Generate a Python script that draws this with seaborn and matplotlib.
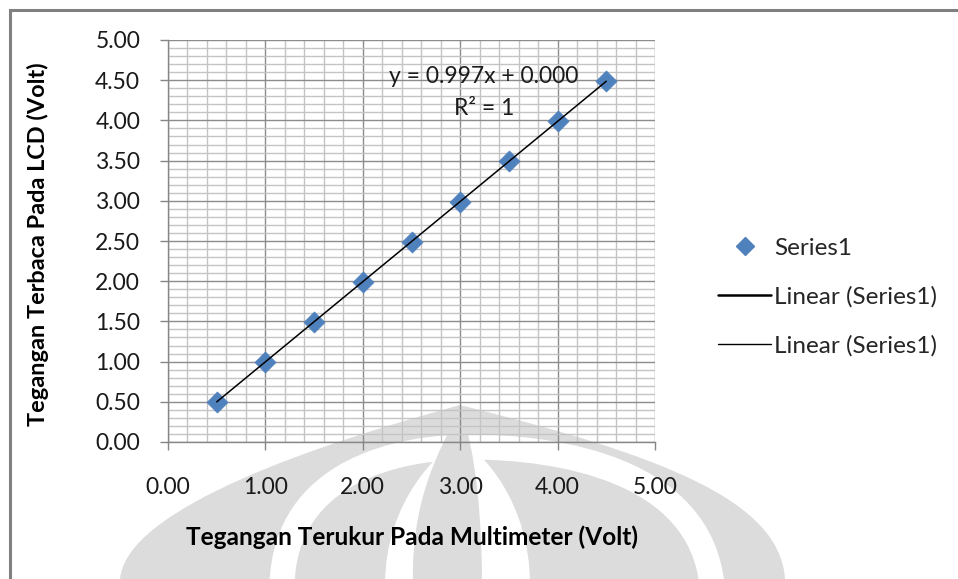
import numpy as np
import matplotlib
matplotlib.use("Agg")
import matplotlib.pyplot as plt
from matplotlib.lines import Line2D
from matplotlib.patches import Rectangle, PathPatch
from matplotlib.path import Path
from matplotlib.ticker import MultipleLocator, FormatStrFormatter
import seaborn as sns

# Measured voltages
multimeter_v = [0.50, 1.00, 1.50, 2.00, 2.50, 3.00, 3.50, 4.00, 4.50]
lcd_v = [0.499, 0.997, 1.496, 1.994, 2.493, 2.991, 3.490, 3.988, 4.487]

x_label = "Tegangan Terukur Pada Multimeter (Volt)"
y_label = "Tegangan Terbaca Pada LCD (Volt)"
series_name = "Series1"
trend_name = "Linear (Series1)"

sns.set_theme(style="white")
plt.rcParams["font.family"] = ["Lato", "DejaVu Sans"]

W, H = 958, 579
fig = plt.figure(figsize=(W / 100, H / 100), dpi=100)
fig.patch.set_facecolor("white")


def fx(px, py):
    """Pixel position (from top-left) to figure fraction."""
    return px / W, 1 - py / H


# Faint emblem in the page background
wm = "#dcdcdc"
dome = Path(
    [fx(120, 579), fx(125, 520), fx(260, 460), fx(460, 405),
     fx(660, 455), fx(780, 500), fx(785, 579), fx(120, 579)],
    [Path.MOVETO, Path.CURVE4, Path.CURVE4, Path.CURVE4,
     Path.CURVE4, Path.CURVE4, Path.CURVE4, Path.CLOSEPOLY],
)
fig.patches.append(PathPatch(dome, fc=wm, ec="none", transform=fig.transFigure,
                             zorder=-3))
band = Path(
    [fx(282, 585), fx(285, 470), fx(400, 447), fx(470, 447),
     fx(560, 447), fx(700, 470), fx(712, 585)],
    [Path.MOVETO, Path.CURVE4, Path.CURVE4, Path.CURVE4,
     Path.CURVE4, Path.CURVE4, Path.CURVE4],
)
fig.patches.append(PathPatch(band, fc="none", ec="white", lw=18,
                             transform=fig.transFigure, zorder=-2))
lens = Path(
    [fx(385, 585), fx(385, 500), fx(440, 450), fx(460, 440),
     fx(480, 450), fx(530, 500), fx(530, 585), fx(385, 585)],
    [Path.MOVETO, Path.CURVE4, Path.CURVE4, Path.CURVE4,
     Path.CURVE4, Path.CURVE4, Path.CURVE4, Path.CLOSEPOLY],
)
fig.patches.append(PathPatch(lens, fc="white", ec="none",
                             transform=fig.transFigure, zorder=-2))
spindle = Path(
    [fx(413, 585), fx(410, 480), fx(455, 430), fx(460, 405),
     fx(468, 430), fx(482, 480), fx(482, 585), fx(413, 585)],
    [Path.MOVETO, Path.CURVE4, Path.CURVE4, Path.CURVE4,
     Path.CURVE4, Path.CURVE4, Path.CURVE4, Path.CLOSEPOLY],
)
fig.patches.append(PathPatch(spindle, fc=wm, ec="none",
                             transform=fig.transFigure, zorder=-1))

ax_l, ax_r, ax_t, ax_b = 168, 655, 40, 442
ax = fig.add_axes([ax_l / W, 1 - ax_b / H, (ax_r - ax_l) / W, (ax_b - ax_t) / H])
ax.set_facecolor("none")

marker_color = "#4F81BD"
sns.regplot(
    x=np.array(multimeter_v), y=np.array(lcd_v), ax=ax, ci=None,
    marker="D",
    scatter_kws=dict(s=115, color=marker_color, edgecolors=marker_color,
                     linewidths=0.5, zorder=3, alpha=1),
    line_kws=dict(color="black", lw=1.1, zorder=4),
)

# Linear fit annotation
slope, intercept = np.polyfit(multimeter_v, lcd_v, 1)
pred = np.polyval([slope, intercept], multimeter_v)
ss_res = np.sum((np.array(lcd_v) - pred) ** 2)
ss_tot = np.sum((np.array(lcd_v) - np.mean(lcd_v)) ** 2)
r2 = 1 - ss_res / ss_tot
ax.text(3.24, 4.54, f"y = {slope:.3f}x + {abs(intercept):.3f}", ha="center",
        va="center", fontsize=16.5, color="#1a1a1a")
ax.text(3.25, 4.15, f"R² = {r2:.4g}", ha="center", va="center",
        fontsize=16.5, color="#1a1a1a")

ax.set_xlim(0, 5)
ax.set_ylim(0, 5)
ax.xaxis.set_major_locator(MultipleLocator(1.0))
ax.xaxis.set_minor_locator(MultipleLocator(0.2))
ax.yaxis.set_major_locator(MultipleLocator(0.5))
ax.yaxis.set_minor_locator(MultipleLocator(0.1))
ax.xaxis.set_major_formatter(FormatStrFormatter("%.2f"))
ax.yaxis.set_major_formatter(FormatStrFormatter("%.2f"))

ax.grid(which="major", color="#8c8c8c", lw=1.0)
ax.grid(which="minor", color="#c4c4c4", lw=1.0)
ax.set_axisbelow(True)

for side in ("top", "right"):
    ax.spines[side].set_visible(False)
for side in ("left", "bottom"):
    ax.spines[side].set_color("#868686")
    ax.spines[side].set_linewidth(1.0)

ax.tick_params(axis="both", which="major", direction="out", length=6,
               width=1, color="#868686", labelsize=16.5, labelcolor="#1a1a1a")
ax.tick_params(axis="both", which="minor", length=0)
ax.tick_params(axis="x", which="major", pad=19)
ax.tick_params(axis="y", which="major", pad=14)
ax.tick_params(axis="x", which="major", bottom=True)
ax.tick_params(axis="y", which="major", left=True)

ax.set_xlabel("")
ax.set_ylabel("")
fig.text(412 / W, 1 - 537 / H, x_label, ha="center", va="center",
         fontsize=17.6, fontweight="bold", color="black")
fig.text(38 / W, 1 - 244 / H, y_label, ha="center", va="center",
         rotation=90, fontsize=16.9, fontweight="bold", color="black")

handles = [
    Line2D([], [], ls="none", marker="D", ms=9, color=marker_color),
    Line2D([], [], color="black", lw=1.8),
    Line2D([], [], color="black", lw=1.0),
]
fig.legend(handles, [series_name, trend_name, trend_name],
           loc="center left", bbox_to_anchor=(718 / W, 1 - 297 / H),
           frameon=False, fontsize=17.5, handlelength=2.2, handletextpad=0.1,
           labelspacing=1.12, borderaxespad=0, borderpad=0)

# Outer chart border
fig.patches.append(Rectangle((9.5 / W, -0.2), 2.0, 1.2 - 9.5 / H,
                             transform=fig.transFigure, fill=False,
                             ec="#808080", lw=2.2, zorder=10))

fig.savefig("out.png", dpi=100, facecolor="white")
